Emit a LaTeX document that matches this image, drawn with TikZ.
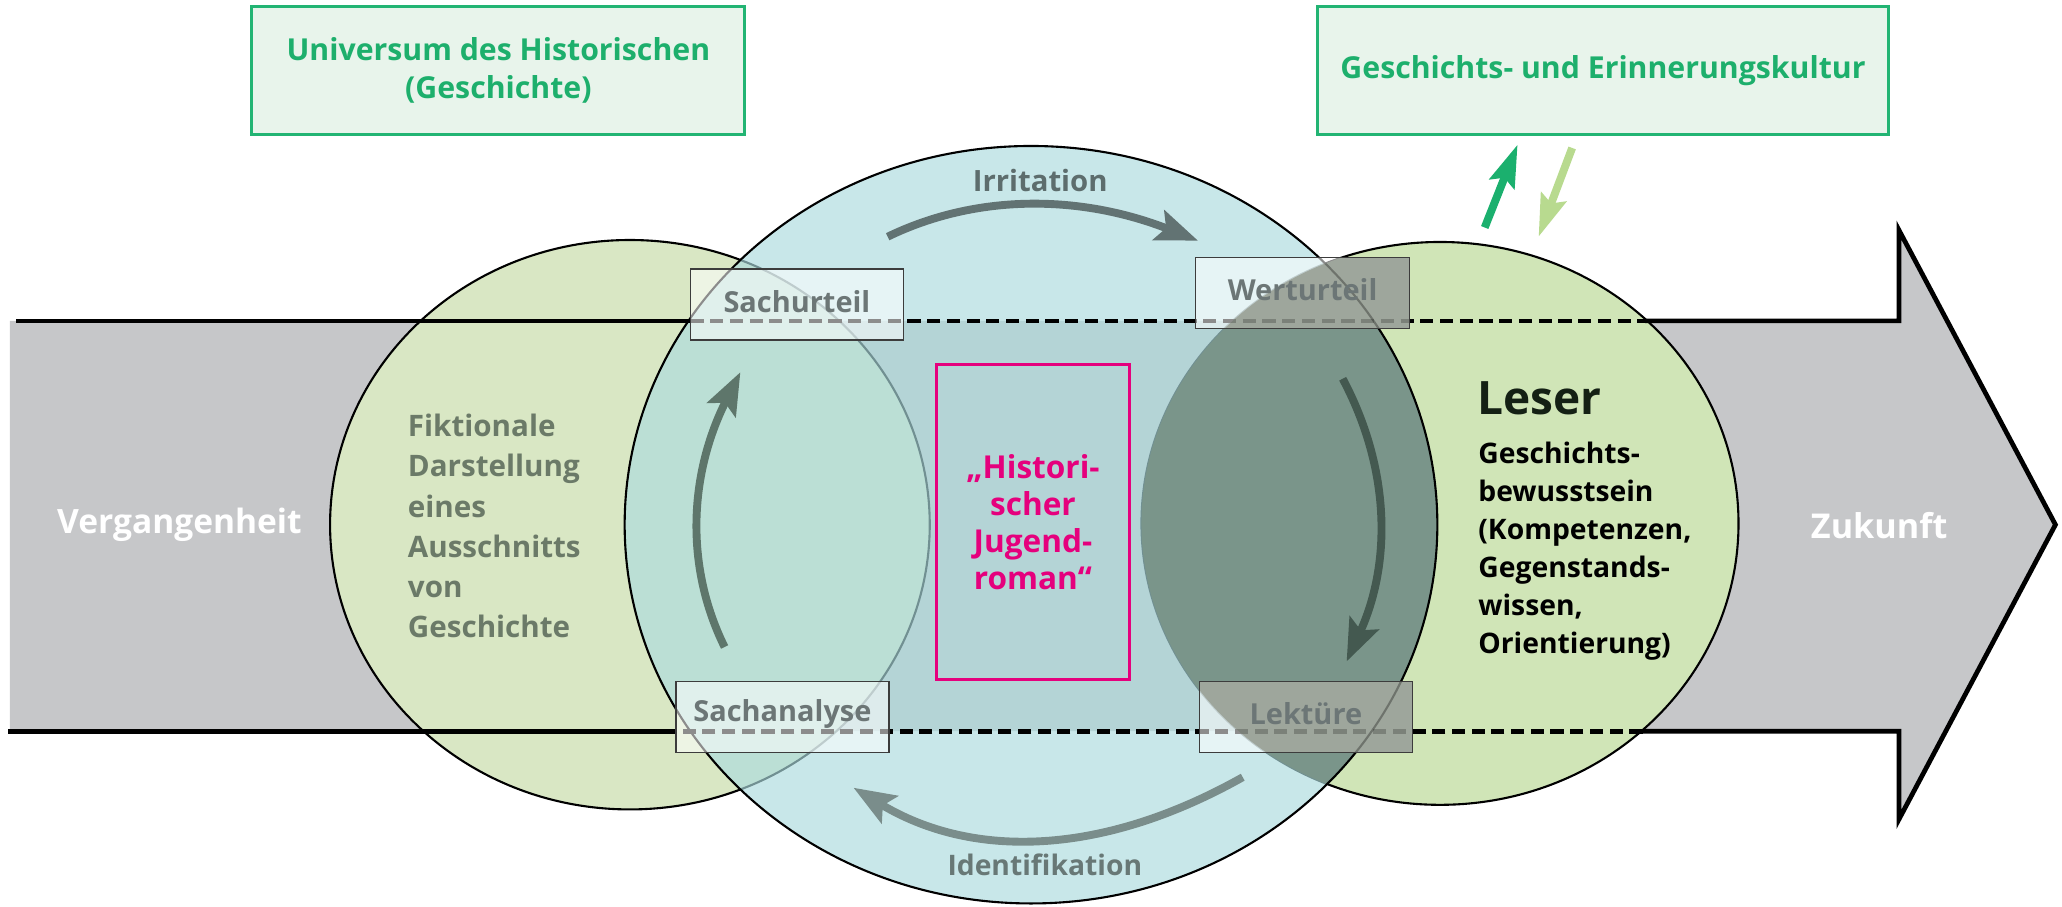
\documentclass[tikz,border=0pt]{standalone}
\usepackage{fontspec}
\setmainfont{Open Sans}
\usetikzlibrary{arrows.meta}
\definecolor{bandgrey}{HTML}{C6C7C9}
\definecolor{leftgreen}{HTML}{D9E7C4}
\definecolor{rightgreen}{HTML}{D0E5B7}
\definecolor{circlecol}{HTML}{ACDBDE}
\definecolor{darkov}{HTML}{7A958A}
\definecolor{boxdark}{HTML}{9EA69C}
\definecolor{labelgrey}{HTML}{6C7676}
\definecolor{fiktgrey}{HTML}{6B7A68}
\definecolor{irrgrey}{HTML}{627373}
\definecolor{identgrey}{HTML}{7A8D8B}
\definecolor{leftarrow}{HTML}{5E766B}
\definecolor{rightarrow}{HTML}{445950}
\definecolor{pinkcol}{HTML}{E5007D}
\definecolor{greentext}{HTML}{1DAF6C}
\definecolor{topfill}{HTML}{E8F4EB}
\definecolor{topline}{HTML}{22B473}
\definecolor{greenup}{HTML}{1BB06E}
\definecolor{greendown}{HTML}{B8DA8F}
\definecolor{boxline}{HTML}{3C3C3C}
\definecolor{leserdark}{HTML}{142014}
\tikzset{
  outl/.style={draw=black, line width=1.6pt},
  bandline/.style={draw=black, line width=3.6pt},
  banddash/.style={draw=black, line width=3.6pt, dash pattern=on 10pt off 5pt},
  ubox/.style={draw=boxline, line width=1pt, fill=white, fill opacity=0.55, inner sep=0pt, outer sep=0pt},
  lbl/.style={font=\fontsize{22}{26}\selectfont\bfseries, text=labelgrey, inner sep=0pt},
  topbox/.style={draw=topline, line width=2.3pt, fill=topfill, align=center, inner sep=0pt,
     text=greentext, font=\fontsize{23}{29}\selectfont\bfseries},
  carrow/.style={line width=6pt, -{Stealth[length=32pt,width=24pt,inset=6pt]}},
  garrow/.style={line width=6pt, -{Stealth[length=32pt,width=20pt,inset=5pt]}},
  circ/.style={x radius=309pt, y radius=288pt},
  rell/.style={x radius=227pt, y radius=214pt},
}
\begin{document}
\begin{tikzpicture}[x=1pt,y=-1pt]
\useasboundingbox (0,0) rectangle (1568,689);
% coordinates
\coordinate (LC) at (479,399);
\coordinate (CC) at (784,399);
\coordinate (RC) at (1095,398);
\coordinate (tl) at (12.5,244);
\coordinate (ds1) at (525,244);
\coordinate (de1) at (1251,244);
\coordinate (nt0) at (1444,244);
\coordinate (nt) at (1444,175);
\coordinate (tip) at (1563,399);
\coordinate (nb) at (1444,623);
\coordinate (nb0) at (1444,556);
\coordinate (de2) at (1249,556);
\coordinate (ds2) at (514,556);
\coordinate (bl) at (6,556);
% band
\fill[bandgrey] (7.5,244) -- (nt0) -- (nt) -- (tip) -- (nb) -- (nb0) -- (7.5,556) -- cycle;
% ellipses
\path[outl, fill=leftgreen] (LC) ellipse [x radius=228pt, y radius=216.5pt];
\path[outl, fill=rightgreen] (RC) ellipse [rell];
\fill[circlecol, fill opacity=0.66] (CC) ellipse [circ];
\begin{scope}
  \clip (RC) ellipse [rell];
  \fill[darkov] (CC) ellipse [circ];
\end{scope}
\draw[line width=1.6pt] (CC) ellipse [circ];
% band outline
\draw[bandline] (tl) -- (ds1);
\draw[banddash] (ds1) -- (de1);
\draw[bandline, line join=miter] (de1) -- (nt0) -- (nt) -- (tip) -- (nb) -- (nb0) -- (de2);
\draw[banddash] (de2) -- (ds2);
\draw[bandline] (ds2) -- (bl);
% pink box
\node[draw=pinkcol, line width=2.2pt, minimum width=147pt, minimum height=240pt, inner sep=0pt] (pink) at (785.5,397) {};
% small boxes
\node[ubox, minimum width=162pt, minimum height=54pt] (b1) at (606,231.5) {};
\node[ubox, minimum width=163pt, minimum height=54pt] (b2) at (990.5,223) {};
\node[ubox, minimum width=162pt, minimum height=54pt] (b3) at (595,545) {};
\node[ubox, minimum width=162pt, minimum height=54pt] (b4) at (993,545) {};
% darkened parts of the right boxes
\begin{scope}
  \clip (RC) ellipse [rell];
  \fill[boxdark] (b2.north west) rectangle (b2.south east);
  \fill[boxdark] (b4.north west) rectangle (b4.south east);
  \begin{scope}
    \clip (b2.north west) rectangle (b2.south east) (b4.north west) rectangle (b4.south east);
    \draw[banddash, draw opacity=0.22] (ds1) -- (de1);
    \draw[banddash, draw opacity=0.22] (de2) -- (ds2);
    \draw[line width=1.6pt, draw opacity=0.3] (CC) ellipse [circ];
  \end{scope}
\end{scope}
\draw[draw=boxline, line width=1pt] (b2.north west) rectangle (b2.south east);
\draw[draw=boxline, line width=1pt] (b4.north west) rectangle (b4.south east);
% box labels
\node[lbl] (t1) at (606,229) {Sachurteil};
\node[lbl] (t2) at (990.5,220.5) {Werturteil};
\node[lbl] (t3) at (595,543) {Sachanalyse};
\node[lbl] (t4) at (993,543) {Lektüre};
% top boxes
\node[topbox, minimum width=375pt, minimum height=97pt] (U) at (379,53.5) {Universum des Historischen\\(Geschichte)};
\node[topbox, minimum width=434pt, minimum height=97pt] (G) at (1219,53.5) {Geschichts- und Erinnerungskultur};
% texts
\node[font=\fontsize{25.5}{30}\selectfont\bfseries, text=white] (verg) at (136.5,399) {Vergangenheit};
\node[font=\fontsize{26}{30}\selectfont\bfseries, text=white] (zuk) at (1429,400) {Zukunft};
\node[font=\fontsize{22.5}{30.5}\selectfont\bfseries, text=fiktgrey, align=left, anchor=west, inner sep=0pt] (fikt) at (310,400)
  {Fiktionale\\Darstellung\\eines\\Ausschnitts\\von\\Geschichte};
\node[font=\fontsize{24}{28}\selectfont\bfseries, text=pinkcol, align=center, inner sep=0pt] (roman) at (785.5,397)
  {„Histori-\\scher\\Jugend-\\roman“};
\node[font=\fontsize{35}{40}\selectfont\bfseries, text=leserdark, anchor=west, inner sep=0pt] (leser) at (1123,303) {Leser};
\node[font=\fontsize{21.5}{29}\selectfont\bfseries, text=black, align=left, anchor=west, inner sep=0pt] (gb) at (1124,419)
  {Geschichts-\\bewusstsein\\(Kompetenzen,\\Gegenstands-\\wissen,\\Orientierung)};
\node[font=\fontsize{22.3}{26}\selectfont\bfseries, text=irrgrey!95!black] (irr) at (791,137) {Irritation};
\node[font=\fontsize{21.5}{26}\selectfont\bfseries, text=identgrey!85!black] (ident) at (794.5,658) {Identifikation};
% cycle arrows
\coordinate (a1s) at (675,180); \coordinate (a1e) at (911,183);
\coordinate (a2s) at (1021,288); \coordinate (a2e) at (1024,503);
\coordinate (a3s) at (945,591); \coordinate (a3e) at (649,599);
\coordinate (a4s) at (551,492); \coordinate (a4e) at (563,283);
\draw[carrow, irrgrey] (a1s) .. controls (743,147) and (821.7,148) .. (a1e);
\draw[carrow, rightarrow] (a2s) .. controls (1057.3,356.3) and (1058.3,428) .. (a2e);
\draw[carrow, identgrey] (a3s) .. controls (838.3,651) and (739.7,653.7) .. (a3e);
\draw[carrow, leftarrow] (a4s) .. controls (520.3,429.7) and (524.3,360) .. (a4e);
% green arrows
\coordinate (g1s) at (1129,173); \coordinate (g1e) at (1154,110);
\coordinate (g2s) at (1195.5,112.5); \coordinate (g2e) at (1170,180);
\draw[garrow, greenup] (g1s) -- (g1e);
\draw[garrow, greendown] (g2s) -- (g2e);
\end{tikzpicture}
\end{document}
